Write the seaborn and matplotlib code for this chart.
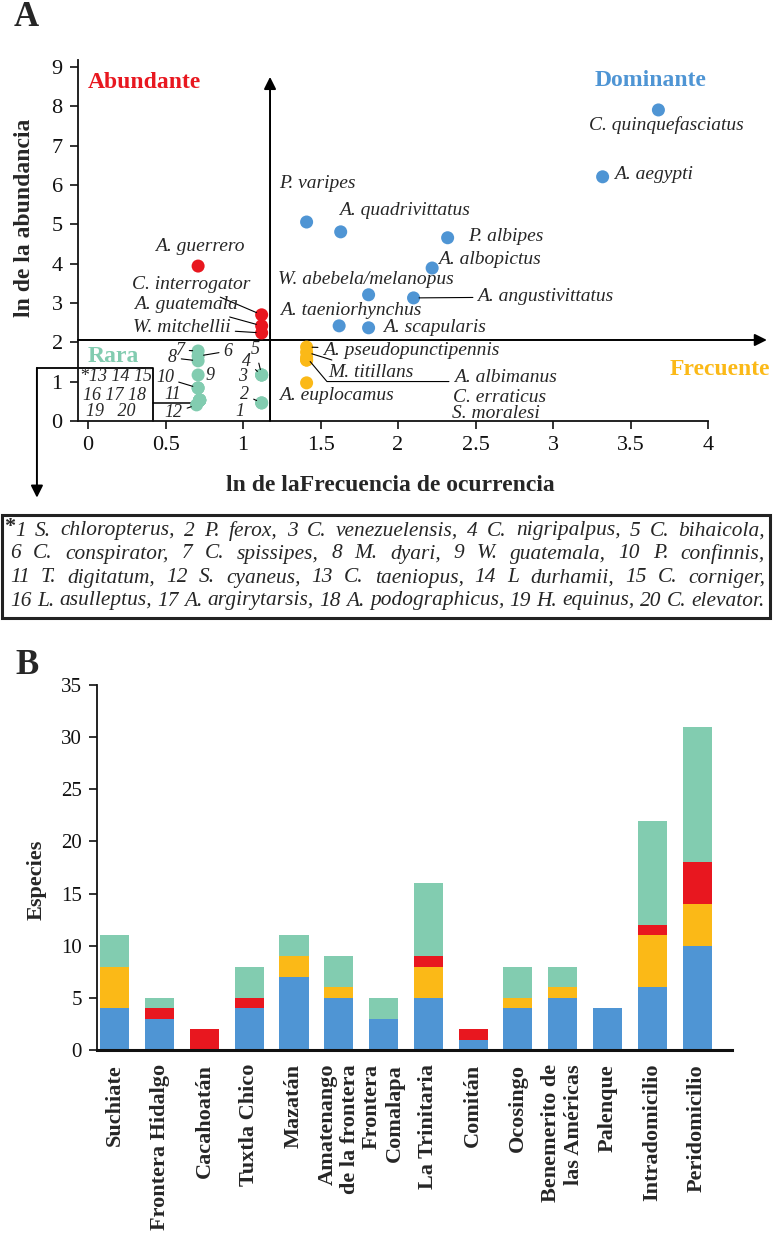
import numpy as np
import pandas as pd
import seaborn as sns
import matplotlib.pyplot as plt
from matplotlib.patches import Rectangle

# ======| Panel A: especies con categoria |======
especies = ["C. quinquefasciatus", "A. aegypti", "P. varipes", "A. quadrivittatus",
            "P. albipes", "A. albopictus", "W. abebela/melanopus", "A. angustivittatus",
            "A. taeniorhynchus", "A. scapularis",
            "A. guerrero", "C. interrogator", "A. guatemala", "W. mitchellii",
            "A. pseudopunctipennis", "M. titillans", "A. albimanus", "C. erraticus",
            "S. moralesi", "A. euplocamus"]
frecuencia = [3.68, 3.32, 1.41, 1.63, 2.32, 2.22, 1.81, 2.10, 1.62, 1.81,
              0.71, 1.12, 1.12, 1.12,
              1.41, 1.41, 1.41, 1.41, 1.41, 1.41]
abundancia = [7.91, 6.21, 5.06, 4.81, 4.66, 3.89, 3.21, 3.13, 2.42, 2.37,
              3.94, 2.70, 2.42, 2.24,
              1.88, 1.75, 1.62, 1.55, 1.55, 0.97]
categoria = ["Dominante", "Dominante", "Dominante", "Dominante", "Dominante",
             "Dominante", "Dominante", "Dominante", "Dominante", "Dominante",
             "Abundante", "Abundante", "Abundante", "Abundante",
             "Frecuente", "Frecuente", "Frecuente", "Frecuente", "Frecuente", "Frecuente"]

# especies raras (numeradas 1-20)
raras = ["S. chloropterus", "P. ferox", "C. venezuelensis", "C. nigripalpus", "C. bihaicola",
         "C. conspirator", "C. spissipes", "M. dyari", "W. guatemala", "P. confinnis",
         "T. digitatum", "S. cyaneus", "C. taeniopus", "L durhamii", "C. corniger",
         "L. asulleptus", "A. argirytarsis", "A. podographicus", "H. equinus", "C. elevator"]
frec_raras = [1.12, 1.12, 1.12, 1.12, 1.12, 0.71, 0.71, 0.71, 0.71, 0.71,
              0.71, 0.70, 0.72, 0.72, 0.72, 0.72, 0.72, 0.72, 0.72, 0.72]
abund_raras = [0.46, 0.46, 1.17, 1.17, 1.17, 1.65, 1.78, 1.53, 1.17, 0.84,
               0.84, 0.41, 0.53, 0.53, 0.53, 0.53, 0.53, 0.53, 0.53, 0.53]

# ======| Panel B: especies por localidad |======
localidades = ["Suchiate", "Frontera Hidalgo", "Cacahoatán", "Tuxtla Chico", "Mazatán",
               "Amatenango\nde la frontera", "Frontera\nComalapa", "La Trinitaria", "Comitán",
               "Ocosingo", "Benemerito de\nlas Américas", "Palenque", "Intradomicilio",
               "Peridomicilio"]
dominante = [4, 3, 0, 4, 7, 5, 3, 5, 1, 4, 5, 4, 6, 10]
frecuente = [4, 0, 0, 0, 2, 1, 0, 3, 0, 1, 1, 0, 5, 4]
abundante = [0, 1, 2, 1, 0, 0, 0, 1, 1, 0, 0, 0, 1, 4]
rara = [3, 1, 0, 3, 2, 3, 2, 7, 0, 3, 2, 0, 10, 13]

colores = {"Dominante": "#4f95d4", "Abundante": "#e8171f",
           "Frecuente": "#fbb917", "Rara": "#82ccb0"}

sns.set_theme(style="ticks")
plt.rcParams["font.family"] = ["Liberation Serif", "DejaVu Serif"]

W, H = 774, 1244
fig = plt.figure(figsize=(W / 100, H / 100), dpi=100)

# ---------------------------------------------------------------
axa = fig.add_axes([78 / W, 1 - 421 / H, (770 - 78) / W, (421 - 60) / H])

df_a = pd.DataFrame({
    "frecuencia": frecuencia + frec_raras,
    "abundancia": abundancia + abund_raras,
    "categoria": categoria + ["Rara"] * len(raras),
})
sns.scatterplot(data=df_a, x="frecuencia", y="abundancia", hue="categoria",
                palette=colores, s=88, linewidth=0, legend=False, ax=axa,
                zorder=4, clip_on=False)

axa.set_xlim(-0.065, 4.4)
axa.set_ylim(0, 9.18)
xt = np.arange(0, 4.01, 0.5)
axa.set_xticks(xt)
axa.set_xticklabels([f"{v:g}" for v in xt])
axa.set_yticks(range(10))
axa.tick_params(length=6, width=1.2, labelsize=16, pad=5, colors="#111")
sns.despine(ax=axa)
axa.spines["bottom"].set_bounds(-0.065, 4.0)
for s in ("left", "bottom"):
    axa.spines[s].set_linewidth(1.3)
    axa.spines[s].set_color("#111")
axa.set_xlabel("ln de laFrecuencia de ocurrencia", fontsize=17, fontweight="bold")
axa.set_ylabel("ln de la abundancia", fontsize=17, fontweight="bold")
axa.xaxis.set_label_coords(0.452, -0.15)
axa.yaxis.set_label_coords(-0.062, 0.562)

# lineas de cuadrantes y recuadro de las raras
flecha = dict(arrowstyle="-|>", color="black", lw=1.4, mutation_scale=18,
              shrinkA=0, shrinkB=0)
axa.annotate("", xy=(1.174, 8.75), xytext=(1.174, 0), arrowprops=flecha,
             annotation_clip=False)
axa.annotate("", xy=(4.38, 2.06), xytext=(-0.065, 2.06), arrowprops=flecha,
             annotation_clip=False)
axa.annotate("", xy=(-0.33, -1.95), xytext=(-0.33, 1.35), arrowprops=flecha,
             annotation_clip=False)
axa.plot([-0.33, 0.42, 0.42], [1.35, 1.35, 0], color="black", lw=1.3, clip_on=False)
axa.plot([0.42, 0.70], [0.46, 0.46], color="black", lw=1.1, clip_on=False)

axa.text(0.0, 8.6, "Abundante", color=colores["Abundante"], fontsize=17,
         fontweight="bold", va="center", ha="left")
axa.text(3.63, 8.65, "Dominante", color=colores["Dominante"], fontsize=17,
         fontweight="bold", va="center", ha="center")
axa.text(0.0, 1.65, "Rara", color=colores["Rara"], fontsize=17,
         fontweight="bold", va="center", ha="left")
axa.text(4.4, 1.3, "Frecuente", color=colores["Frecuente"], fontsize=17,
         fontweight="bold", va="center", ha="right")

axa.text(0.18, 1.12, "*13 14 15", style="italic", fontsize=13, ha="center", va="center")
axa.text(0.168, 0.64, "16 17 18", style="italic", fontsize=13, ha="center", va="center")
axa.text(0.148, 0.23, "19   20", style="italic", fontsize=13, ha="center", va="center")

# etiquetas: desplazamiento en pixeles desde el punto, alineacion, linea guia
etiquetas = {
    "C. quinquefasciatus": (8, -15, "center", False),
    "A. aegypti": (11, 2, "left", False),
    "P. varipes": (-27, 39, "left", False),
    "A. quadrivittatus": (-2, 21, "left", False),
    "P. albipes": (20, 1, "left", False),
    "A. albopictus": (6, 9, "left", False),
    "W. abebela/melanopus": (-91, 15, "left", False),
    "A. angustivittatus": (64, 1, "left", True),
    "A. taeniorhynchus": (-59, 15, "left", False),
    "A. scapularis": (14, 0, "left", False),
    "A. guerrero": (2, 20, "center", False),
    "C. interrogator": (-11, 30, "right", True),
    "A. guatemala": (-24, 21, "right", True),
    "W. mitchellii": (-31, 5, "right", True),
    "A. pseudopunctipennis": (16, -3, "left", True),
    "M. titillans": (22, -20, "left", True),
    "A. albimanus": (147, -20, "left", True),
    "C. erraticus": (146, -37, "left", False),
    "S. moralesi": (145, -53, "left", False),
    "A. euplocamus": (-28, -13, "left", False),
    "1": (-22, -9, "center", False),
    "2": (-17, 8, "center", True),
    "3": (-19, -2, "center", False),
    "4": (-15, 13, "center", True),
    "5": (-6, 25, "center", True),
    "6": (30, 5, "center", True),
    "7": (-18, 1, "center", True),
    "8": (-26, 3, "center", True),
    "9": (12, -1, "center", False),
    "10": (-33, 10, "center", True),
    "11": (-25, -7, "center", False),
    "12": (-23, -8, "center", True),
}

nombres = especies + [str(i + 1) for i in range(len(raras))]
for nombre, x, y in zip(nombres, frecuencia + frec_raras, abundancia + abund_raras):
    if nombre not in etiquetas:
        continue
    dx, dy, ha, guia = etiquetas[nombre]
    props = None
    if guia:
        props = dict(arrowstyle="-", color="black", lw=0.8, shrinkA=1, shrinkB=4)
        if nombre == "A. albimanus":
            props.update(connectionstyle="angle,angleA=0,angleB=130,rad=0",
                         relpos=(0, 0.25))
    fs = 14 if nombre[0].isalpha() else 13
    axa.annotate(nombre, (x, y), xytext=(dx, dy), textcoords="offset pixels",
                 ha=ha, va="center", style="italic", fontsize=fs,
                 arrowprops=props, zorder=5, annotation_clip=False)

fig.text(14 / W, 1 - 18 / H, "A", fontsize=25, fontweight="bold", va="center")

# ======| Recuadro con los nombres de las especies raras |======
fig.add_artist(Rectangle((2 / W, 1 - 618 / H), 768 / W, 103 / H,
                         transform=fig.transFigure, fill=False, lw=2.2, ec="#222"))
lineas = [
    "1 S. chloropterus, 2 P. ferox, 3 C. venezuelensis, 4 C. nigripalpus, 5 C. bihaicola,",
    "6 C. conspirator, 7 C. spissipes, 8 M. dyari, 9 W. guatemala, 10 P. confinnis,",
    "11 T. digitatum, 12 S. cyaneus, 13 C. taeniopus, 14 L durhamii, 15 C. corniger,",
    "16 L. asulleptus, 17 A. argirytarsis, 18 A. podographicus, 19 H. equinus, 20 C. elevator.",
]
renderer = fig.canvas.get_renderer()
anchos = []
for ln in lineas:
    t = fig.text(0, 0, ln, fontsize=15, style="italic")
    anchos.append(t.get_window_extent(renderer).width)
    t.remove()
fs_nota = 15 * (765 - 10) / max(anchos)

fig.text(4 / W, 1 - 527 / H, "*", fontsize=16, fontweight="bold", va="center")
for i, (ln, yp) in enumerate(zip(lineas, [531, 554, 578, 601])):
    x0 = 15 if i == 0 else 10
    palabras = ln.split(" ")
    objs = [fig.text(0, 1 - yp / H, p, fontsize=fs_nota, style="italic", va="center")
            for p in palabras]
    w = [o.get_window_extent(renderer).width for o in objs]
    hueco = (765 - x0 - sum(w)) / (len(objs) - 1)
    x = x0
    for o, wi in zip(objs, w):
        o.set_x(x / W)
        x += wi + hueco

# ---------------------------------------------------------------
axb = fig.add_axes([97 / W, 1 - 1050 / H, (732 - 97) / W, (1050 - 685) / H])

dom = np.array(dominante)
fre = dom + np.array(frecuente)
abu = fre + np.array(abundante)
tot = abu + np.array(rara)
capas = [(tot, colores["Rara"]), (abu, colores["Abundante"]),
         (fre, colores["Frecuente"]), (dom, colores["Dominante"])]
for alto, color in capas:
    sns.barplot(x=localidades, y=alto, order=localidades, color=color, width=0.65,
                saturation=1, linewidth=0, ax=axb)

axb.set_xlim(-0.4, 13.78)
axb.set_ylim(0, 35)
axb.set_yticks(range(0, 36, 5))
axb.set_xticks(range(len(localidades)))
axb.set_xticklabels(localidades, rotation=90, fontsize=16, fontweight="bold",
                    ha="center", va="top", multialignment="right")
axb.tick_params(axis="y", length=6, width=1.2, labelsize=15, pad=5, colors="#111")
axb.tick_params(axis="x", length=0, pad=10)
sns.despine(ax=axb)
axb.spines["left"].set_linewidth(1.3)
axb.spines["bottom"].set_linewidth(2.2)
axb.spines["left"].set_color("#111")
axb.spines["bottom"].set_color("#111")
axb.set_xlabel("")
axb.set_ylabel("Especies", fontsize=16, fontweight="bold")
axb.yaxis.set_label_coords(-0.079, 0.466)

fig.text(15 / W, 1 - 665 / H, "B", fontsize=25, fontweight="bold", va="center")

fig.savefig("out.png", dpi=100)
